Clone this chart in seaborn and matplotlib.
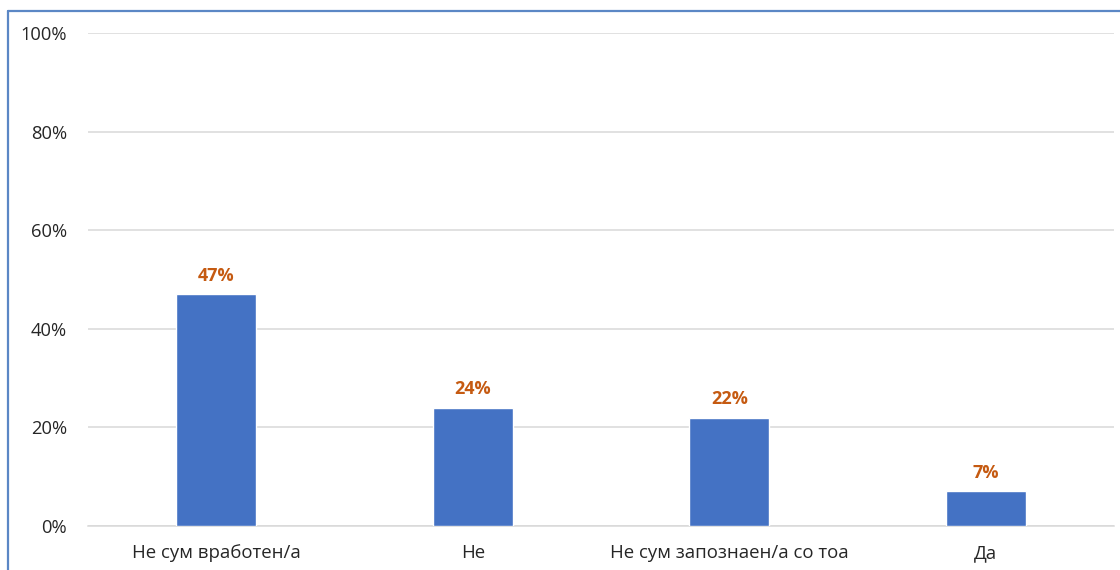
import matplotlib
matplotlib.use("Agg")
import matplotlib.pyplot as plt
from matplotlib.lines import Line2D
from matplotlib.ticker import PercentFormatter
import seaborn as sns
import pandas as pd

categories = ["Не сум вработен/а", "Не", "Не сум запознаен/а со тоа", "Да"]
shares = [0.47, 0.24, 0.22, 0.07]
y_ticks = [0, 0.2, 0.4, 0.6, 0.8, 1.0]

sns.set_theme(style="white")
plt.rcParams["font.family"] = ["Open Sans", "DejaVu Sans"]

df = pd.DataFrame({"answer": categories, "share": shares})

W, H = 1120, 570
fig = plt.figure(figsize=(W / 100, H / 100), dpi=100)
ax = fig.add_axes([88 / W, 1 - 526 / H, (1114 - 88) / W, (526 - 33) / H])

sns.barplot(data=df, x="answer", y="share", color="#4472C4", width=0.31,
            saturation=1, ax=ax, zorder=3)

ax.set_ylim(0, 1)
ax.set_xlim(-0.5, len(categories) - 0.5)
ax.set_yticks(y_ticks)
ax.yaxis.set_major_formatter(PercentFormatter(1.0, decimals=0))
ax.grid(axis="y", color="#D9D9D9", linewidth=1.1, zorder=0)
ax.grid(axis="x", visible=False)
for side in ("top", "right", "left"):
    ax.spines[side].set_visible(False)
ax.spines["bottom"].set_color("#D9D9D9")
ax.spines["bottom"].set_linewidth(1.1)
ax.tick_params(axis="y", length=0, pad=15, labelsize=13.2, labelcolor="#262626")
ax.tick_params(axis="x", length=0, pad=13, labelsize=13.4, labelcolor="#262626")
ax.set_xlabel("")
ax.set_ylabel("")

for i, v in enumerate(shares):
    ax.annotate(f"{v:.0%}", (i, v), xytext=(0, 7), textcoords="offset points",
                ha="center", va="bottom", fontsize=13, fontweight="bold",
                color="#C55A11")

# frame lines along the top and left edges
border = "#5B87C5"
fig.add_artist(Line2D([8 / W, 8 / W], [0, 1 - 11 / H], transform=fig.transFigure,
                      color=border, linewidth=1.6))
fig.add_artist(Line2D([8 / W, 1], [1 - 11 / H, 1 - 11 / H], transform=fig.transFigure,
                      color=border, linewidth=1.6))

fig.savefig("out.png", dpi=100, facecolor="white")
